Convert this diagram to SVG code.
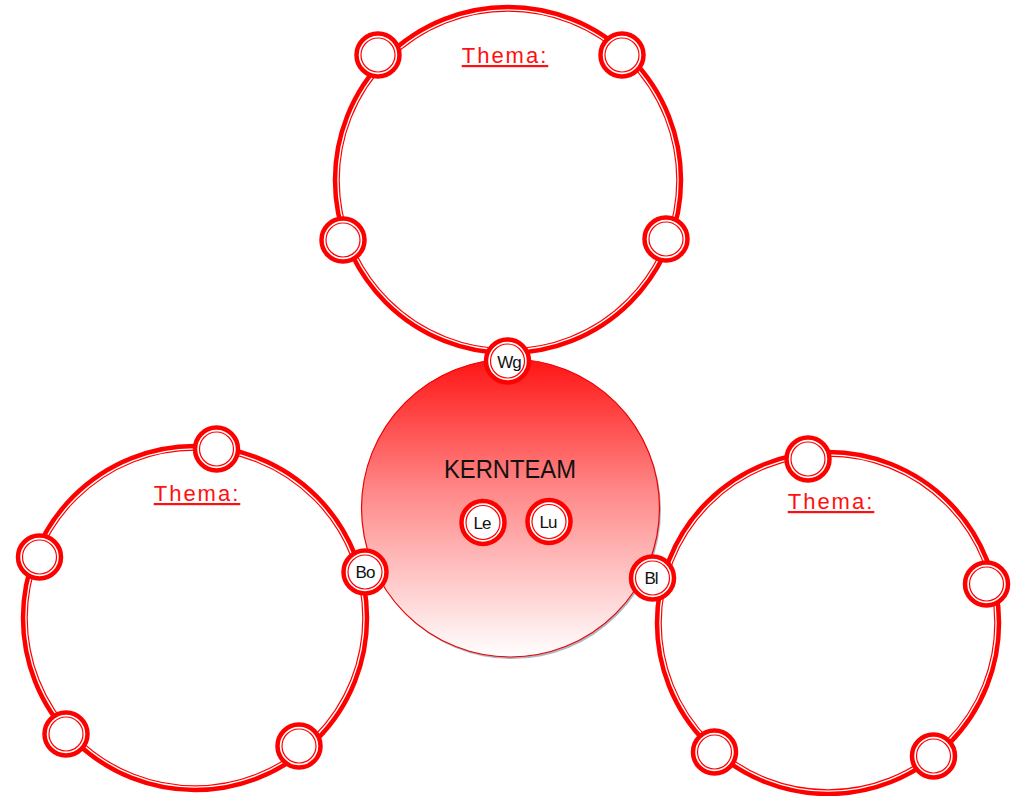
<svg xmlns="http://www.w3.org/2000/svg" width="1013" height="796" viewBox="0 0 1013 796">
<style>
.ring{fill:none;stroke:#ff0000;stroke-width:4.5}
.ringin{fill:none;stroke:#ff0000;stroke-width:1.2}
.sm{fill:#ffffff;stroke:#ff0000;stroke-width:4.5}
.smin{fill:none;stroke:#ff0000;stroke-width:1.2}
.thema{font-family:"Liberation Sans",Arial,sans-serif;font-size:22px;fill:#ff1010;text-anchor:middle;letter-spacing:2px;text-decoration:underline}
.lbl{font-family:"Liberation Sans",Arial,sans-serif;font-size:17px;fill:#111111;text-anchor:middle;letter-spacing:-1px}
</style>
<defs>
<linearGradient id="kg" x1="0" y1="0" x2="0" y2="1">
<stop offset="0" stop-color="#ff1414"/>
<stop offset="0.45" stop-color="#ff8a8a"/>
<stop offset="1" stop-color="#ffffff"/>
</linearGradient>
<g id="small">
<circle class="sm" r="21.5"/>
<circle class="smin" r="17"/>
</g>
</defs>
<rect width="1013" height="796" fill="#ffffff"/>

<g id="kernteam">
<circle cx="512" cy="510" r="149" fill="#8898aa" opacity="0.7"/>
<circle cx="510.5" cy="508" r="149" fill="url(#kg)" stroke="#ee0000" stroke-width="1.2"/>
<text x="510" y="478" font-family="Liberation Sans,Arial,sans-serif" font-size="25" fill="#111111" text-anchor="middle" textLength="132" lengthAdjust="spacingAndGlyphs">KERNTEAM</text>
</g>

<g id="connectors">
<circle class="ring" cx="508" cy="180" r="173"/>
<circle class="ringin" cx="508" cy="180" r="168.8"/>
<circle class="ring" cx="195" cy="618" r="172"/>
<circle class="ringin" cx="195" cy="618" r="167.8"/>
<circle class="ring" cx="828" cy="623" r="171"/>
<circle class="ringin" cx="828" cy="623" r="166.8"/>
</g>

<g id="group-top">
<text class="thema" x="505" y="63">Thema:</text>
</g>
<g id="group-left">
<text class="thema" x="197" y="501">Thema:</text>
</g>
<g id="group-right">
<text class="thema" x="831" y="509">Thema:</text>
</g>

<g id="top-slots">
<use href="#small" x="378" y="55"/>
<use href="#small" x="622" y="55"/>
<use href="#small" x="343" y="240"/>
<use href="#small" x="666" y="239"/>
</g>
<g id="left-slots">
<use href="#small" x="216.5" y="449"/>
<use href="#small" x="39.5" y="557"/>
<use href="#small" x="66" y="734"/>
<use href="#small" x="299" y="746"/>
</g>
<g id="right-slots">
<use href="#small" x="808" y="459"/>
<use href="#small" x="986.5" y="584"/>
<use href="#small" x="714.5" y="752"/>
<use href="#small" x="933.5" y="756"/>
</g>

<g id="node-wg">
<use href="#small" x="507.5" y="361"/>
<text class="lbl" x="509" y="368">Wg</text>
</g>
<g id="node-bo">
<use href="#small" x="365" y="572"/>
<text class="lbl" x="365" y="578">Bo</text>
</g>
<g id="node-bl">
<use href="#small" x="652.5" y="578"/>
<text class="lbl" x="651" y="584">Bl</text>
</g>
<g id="node-le">
<use href="#small" x="483" y="522.5"/>
<text class="lbl" x="482" y="529">Le</text>
</g>
<g id="node-lu">
<use href="#small" x="549" y="521.5"/>
<text class="lbl" x="548" y="528">Lu</text>
</g>
</svg>
